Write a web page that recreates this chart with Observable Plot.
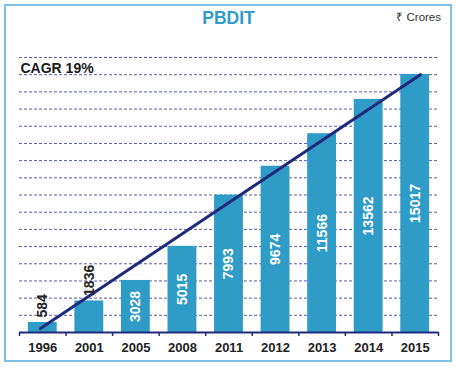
<!DOCTYPE html>
<html>
<head>
<meta charset="utf-8">
<script src="https://cdn.jsdelivr.net/npm/d3@7"></script>
<script src="https://cdn.jsdelivr.net/npm/@observablehq/plot@0.6"></script>
<style>
  html, body { margin: 0; padding: 0; background: #fff; }
  #wrap { position: relative; width: 457px; height: 368px; font-family: "Liberation Sans", Arial, Helvetica, sans-serif; overflow: hidden; }
  #frame { position: absolute; left: 4px; top: 4px; width: 444px; height: 354px; border: 2px solid #7cc2e2; }
  #title { position: absolute; left: 0; width: 457px; top: 8px; text-align: center; font-weight: bold; font-size: 17.5px; color: #2e9bcb; }
  #unit { position: absolute; right: 16px; top: 9px; font-size: 11.5px; color: #333; }
  #chart { position: absolute; left: 0; top: 0; }
</style>
</head>
<body>
<div id="wrap">
  <div id="frame"></div>
  <div id="chart"></div>
  <div id="title">PBDIT</div>
  <div id="unit">₹ Crores</div>
</div>
<script>
// Data
const years = ["1996", "2001", "2005", "2008", "2011", "2012", "2013", "2014", "2015"];
const values = [584, 1836, 3028, 5015, 7993, 9674, 11566, 13562, 15017];
const cagrLabel = "CAGR 19%";
// trend line endpoints (x as category index, y in ₹ Crores)
const trendX = [-0.05, 8.11];
const trendY = [230, 15000];
const gridValues = d3.range(1000, 16001, 1000);

const rows = years.map((y, i) => ({i, year: y, value: values[i]}));
const trend = trendX.map((x, k) => ({x, y: trendY[k]}));
const bw = 0.31;

const font = '"Liberation Sans", Arial, Helvetica, sans-serif';

const plot = Plot.plot({
  width: 457,
  height: 368,
  marginTop: 57,
  marginBottom: 36,
  marginLeft: 19,
  marginRight: 19,
  style: {fontFamily: font, background: "transparent", overflow: "visible"},
  x: {domain: [-0.5, years.length - 0.5], axis: null},
  y: {domain: [0, 16000], axis: null},
  marks: [
    Plot.ruleY(gridValues, {stroke: "#3b3f8c", strokeOpacity: 0.85, strokeWidth: 1, strokeDasharray: "3,2"}),
    Plot.rectY(rows, {x1: d => d.i - bw, x2: d => d.i + bw, y1: 0, y2: "value", fill: "#2f9bc7"}),
    Plot.ruleY([0], {stroke: "#1f2a7c", strokeWidth: 2}),
    Plot.axisX({ticks: d3.range(-0.5, years.length, 1), tickFormat: () => "", tickSize: 4, stroke: "#1f2a7c", strokeWidth: 1.5, tickPadding: 0}),
    Plot.axisX({ticks: d3.range(0, years.length), tickFormat: i => years[i], tickSize: 0, tickPadding: 10,
      fontSize: 13, fontWeight: "bold", fill: "#222"}),
    Plot.line(trend, {x: "x", y: "y", stroke: "#1f2a7c", strokeWidth: 3}),
    Plot.text(rows.filter(d => d.value >= 3000), {x: "i", y: d => d.value / 2, text: d => String(d.value), rotate: -90,
      fill: "white", fontSize: 14, fontWeight: "bold"}),
    Plot.text(rows.filter(d => d.value < 3000), {x: "i", y: "value", text: d => String(d.value), rotate: -90,
      textAnchor: "start", dy: -5, fill: "#222", fontSize: 14, fontWeight: "bold"}),
    Plot.text([cagrLabel], {frameAnchor: "top-left", text: d => d, dx: 1, dy: 11, fontSize: 14, fontWeight: "bold", fill: "#1a1a1a", lineAnchor: "middle", textAnchor: "start"})
  ]
});
document.getElementById("chart").appendChild(plot);
</script>
</body>
</html>
